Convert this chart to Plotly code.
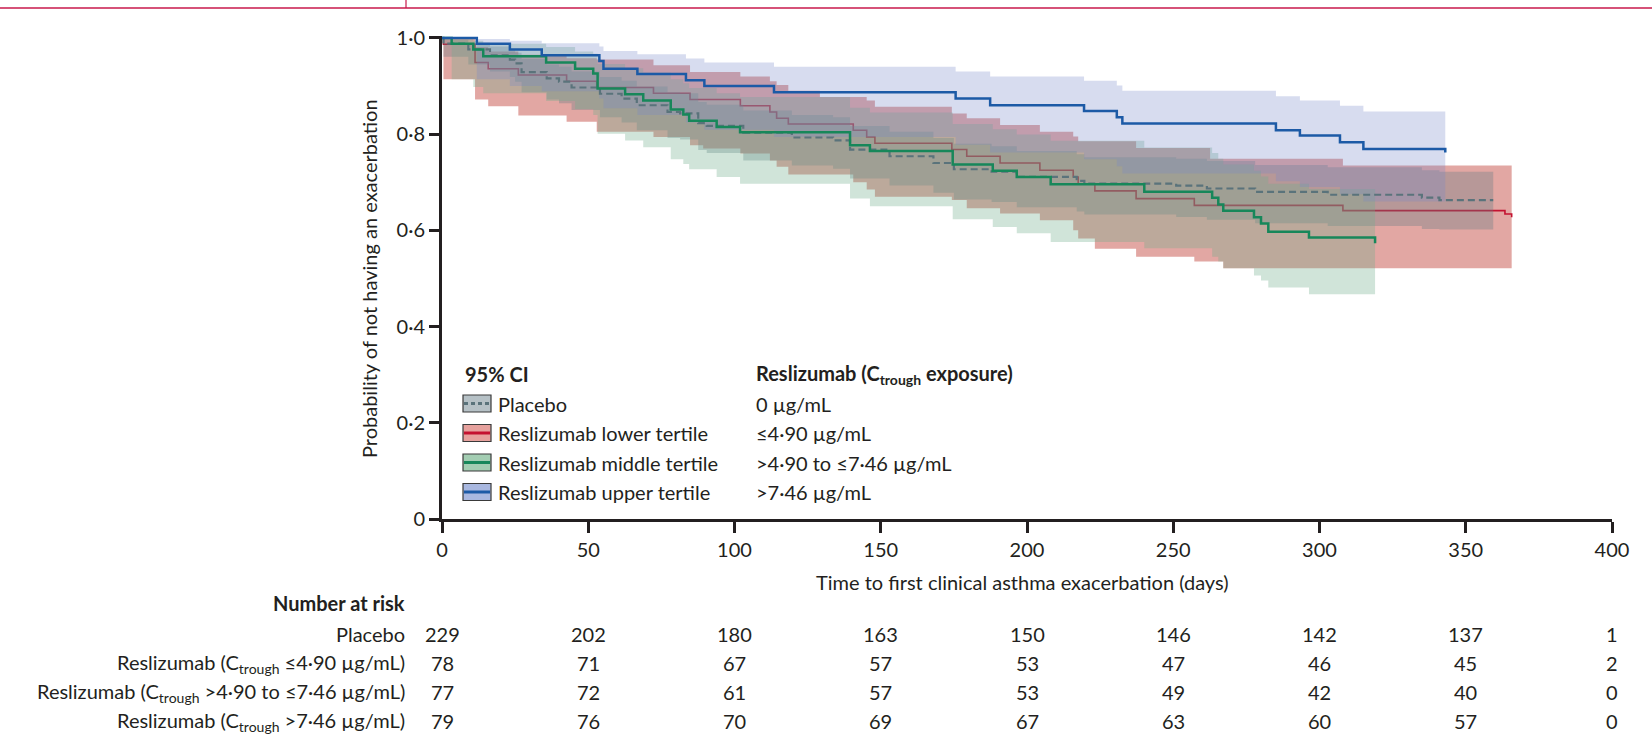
import plotly.graph_objects as go

# ---------------- Kaplan-Meier estimates (days, survival, 95% CI) ----------------
placebo_t = [0, 0.5, 9, 16.4, 23.2, 25.0, 27.2, 35.8, 40.0, 44.3, 54.0, 61.4, 66.6, 77.1, 81.4,
             87.6, 90.5, 103.0, 119.6, 133.7, 139.5, 153.0, 168.0, 175.0, 187.9, 196.5, 217.0,
             219.6, 251.0, 261.5, 278.0, 302.8, 335.0, 341.0, 359.4]
placebo_s = [1, .988, .976, .964, .955, .947, .929, .916, .909, .897, .884, .874, .860, .846, .843,
             .823, .817, .803, .793, .787, .768, .754, .740, .727, .722, .711, .703,
             .697, .693, .687, .680, .674, .668, .663, .663]
placebo_lo = [1, .961, .945, .930, .919, .909, .887, .872, .864, .850, .835, .824, .808, .792, .789,
              .767, .761, .745, .735, .728, .708, .693, .678, .664, .659, .648, .639,
              .633, .628, .622, .615, .609, .603, .602, .602]
placebo_hi = [1, .996, .990, .982, .975, .969, .956, .945, .940, .930, .919, .911, .899, .887, .885,
              .867, .861, .849, .840, .835, .817, .805, .792, .780, .775, .765, .758,
              .752, .749, .744, .736, .731, .725, .722, .722]

lower_t = [0, 0.5, 11.3, 15.8, 26.1, 42.6, 52.9, 72.3, 84.8, 89.3, 102.0, 112.1, 114.4, 118.4,
           129.2, 140.6, 145.2, 148.0, 174.3, 179.4, 190.8, 204.4, 215.8, 217.5, 223.2, 237.3,
           257.2, 262.6, 267.1, 308.0, 363.4, 365.7]
lower_s = [1, .987, .949, .936, .923, .910, .897, .885, .872, .872, .859, .846, .833, .821,
           .821, .808, .794, .781, .768, .754, .740, .725, .711, .697, .682, .666,
           .652, .652, .652, .641, .634, .627]
lower_lo = [1, .914, .872, .858, .839, .826, .805, .794, .777, .770, .760, .745, .732, .716,
            .716, .700, .685, .670, .663, .646, .635, .621, .600, .583, .562, .545,
            .535, .535, .521, .521, .521, .521]
lower_hi = [1, .998, .981, .972, .965, .958, .955, .943, .929, .929, .920, .910, .902, .890,
            .877, .877, .870, .857, .843, .833, .819, .805, .795, .785, .785, .771,
            .771, .749, .749, .735, .735, .735]

middle_t = [0, 3.3, 10.7, 14.1, 35.6, 45.5, 51.7, 53.2, 62.6, 68.8, 78.2, 82.5, 84.5, 93.9,
            101.9, 139.5, 146.3, 174.6, 188.3, 196.5, 208.1, 240.1, 263.3, 265.4, 267.1,
            277.6, 280.0, 282.5, 296.4, 319.0]
middle_s = [1, .988, .976, .962, .949, .936, .926, .895, .883, .870, .851, .841, .828, .815,
            .804, .777, .765, .737, .724, .711, .696, .680, .668, .654, .641,
            .627, .614, .597, .585, .573]
middle_lo = [1, .914, .898, .885, .869, .852, .840, .801, .787, .773, .748, .738, .727, .711,
             .697, .666, .650, .623, .607, .594, .576, .563, .545, .535, .521,
             .506, .496, .481, .467, .467]
middle_hi = [1, .998, .994, .988, .981, .972, .967, .946, .937, .928, .914, .906, .896, .885,
             .877, .855, .845, .821, .810, .799, .786, .772, .761, .749, .737,
             .724, .712, .697, .686, .686]

upper_t = [0, 11.9, 23.2, 34.1, 53.8, 55.2, 66.8, 83.4, 89.7, 113.5, 175.6, 187.4, 219.5,
           230.7, 232.6, 285.1, 293.3, 307.0, 315.0, 343.0]
upper_s = [1, .988, .976, .964, .952, .936, .925, .912, .900, .887, .874, .860, .848,
           .835, .822, .808, .797, .783, .769, .762]
upper_lo = [1, .914, .900, .889, .874, .854, .840, .824, .809, .794, .778, .762, .748,
            .733, .718, .702, .690, .675, .660, .652]
upper_hi = [1, .998, .994, .989, .982, .973, .966, .957, .949, .940, .930, .920, .911,
            .901, .890, .879, .870, .859, .847, .842]

# ---------------- number at risk ----------------
risk_days = [0, 50, 100, 150, 200, 250, 300, 350, 400]
risk_placebo = [229, 202, 180, 163, 150, 146, 142, 137, 1]
risk_lower = [78, 71, 67, 57, 53, 47, 46, 45, 2]
risk_middle = [77, 72, 61, 57, 53, 49, 42, 40, 0]
risk_upper = [79, 76, 70, 69, 67, 63, 60, 57, 0]

risk_labels = [
    "Placebo",
    "Reslizumab (C<sub>trough</sub> \u22644\u00b790 \u00b5g/mL)",
    "Reslizumab (C<sub>trough</sub> >4\u00b790 to \u22647\u00b746 \u00b5g/mL)",
    "Reslizumab (C<sub>trough</sub> >7\u00b746 \u00b5g/mL)",
]
legend_names = ["Placebo", "Reslizumab lower tertile", "Reslizumab middle tertile",
                "Reslizumab upper tertile"]
legend_exposure = ["0 \u00b5g/mL", "\u22644\u00b790 \u00b5g/mL",
                   ">4\u00b790 to \u22647\u00b746 \u00b5g/mL", ">7\u00b746 \u00b5g/mL"]

x_ticks = [0, 50, 100, 150, 200, 250, 300, 350, 400]
y_ticks = [0, 0.2, 0.4, 0.6, 0.8, 1.0]
y_ticktext = ["0", "0\u00b72", "0\u00b74", "0\u00b76", "0\u00b78", "1\u00b70"]

# ---------------- styling ----------------
FONT = "Lato, 'Liberation Sans', Arial, sans-serif"
INK = "#231f20"
FS = 20

C_PLACEBO_LINE = "#5a737b"
C_LOWER_LINE = "#c41230"
C_MIDDLE_LINE = "#17875a"
C_UPPER_LINE = "#1c5aa6"

C_PLACEBO_BAND = "rgba(100,122,132,0.34)"
C_LOWER_BAND = "rgba(190,55,45,0.44)"
C_MIDDLE_BAND = "rgba(112,172,140,0.33)"
C_UPPER_BAND = "rgba(118,136,200,0.29)"

ICON_FILL = ["#b6c1c6", "#e6a19d", "#a3cdb2", "#a9b8e0"]
ICON_LINE = [C_PLACEBO_LINE, C_LOWER_LINE, C_MIDDLE_LINE, C_UPPER_LINE]

W, H = 1652, 735
PL, PR, PT, PB = 442, 1612, 36, 519  # plot area in page pixels


def px(X):
    return (X - PL) / (PR - PL)


def py(Y):
    return (PB - Y) / (PB - PT)


fig = go.Figure()


def add_band(t, lo, hi, color):
    fig.add_trace(go.Scatter(x=t, y=lo, mode="lines", line=dict(width=0, shape="hv"),
                             hoverinfo="skip", showlegend=False))
    fig.add_trace(go.Scatter(x=t, y=hi, mode="lines", line=dict(width=0, shape="hv"),
                             fill="tonexty", fillcolor=color, hoverinfo="skip",
                             showlegend=False))


def add_curve(t, s, color, width, dash="solid"):
    fig.add_trace(go.Scatter(x=t, y=s, mode="lines",
                             line=dict(color=color, width=width, shape="hv", dash=dash),
                             showlegend=False))


# lower tertile sits beneath the other confidence bands
add_band(lower_t, lower_lo, lower_hi, C_LOWER_BAND)
add_curve(lower_t, lower_s, C_LOWER_LINE, 1.6)
add_band(placebo_t, placebo_lo, placebo_hi, C_PLACEBO_BAND)
add_band(middle_t, middle_lo, middle_hi, C_MIDDLE_BAND)
add_band(upper_t, upper_lo, upper_hi, C_UPPER_BAND)
add_curve(placebo_t, placebo_s, C_PLACEBO_LINE, 2.2, dash="7px,4px")
add_curve(middle_t, middle_s, C_MIDDLE_LINE, 2.5)
add_curve(upper_t, upper_s, C_UPPER_LINE, 2.5)

shapes = []
annotations = []

# journal header rule
shapes.append(dict(type="line", xref="paper", yref="paper", x0=px(0), x1=px(W),
                   y0=py(8), y1=py(8), line=dict(color="#c8194b", width=1.5)))
shapes.append(dict(type="line", xref="paper", yref="paper", x0=px(406), x1=px(406),
                   y0=py(0), y1=py(8), line=dict(color="#c8194b", width=1.2)))

# legend block
LEG_ICON_X0, LEG_ICON_X1 = 463, 491
LEG_TEXT_X = 496
LEG_COL2_X = 754
LEG_HEAD_Y = 374
LEG_ROW_Y = [403.5, 433, 462.5, 492]

annotations.append(dict(xref="paper", yref="paper", x=px(LEG_ICON_X0), y=py(LEG_HEAD_Y),
                        text="<b>95% CI</b>", showarrow=False, xanchor="left",
                        yanchor="middle", font=dict(family=FONT, size=FS, color=INK)))
annotations.append(dict(xref="paper", yref="paper", x=px(LEG_COL2_X), y=py(LEG_HEAD_Y),
                        text="<b>Reslizumab (C<sub>trough</sub> exposure)</b>",
                        showarrow=False, xanchor="left", yanchor="middle",
                        font=dict(family=FONT, size=FS, color=INK)))
for i, yy in enumerate(LEG_ROW_Y):
    shapes.append(dict(type="rect", xref="paper", yref="paper",
                       x0=px(LEG_ICON_X0), x1=px(LEG_ICON_X1),
                       y0=py(yy + 8.5), y1=py(yy - 8.5),
                       fillcolor=ICON_FILL[i], line=dict(color="#3a3a3a", width=1.2)))
    shapes.append(dict(type="line", xref="paper", yref="paper",
                       x0=px(LEG_ICON_X0 + 1), x1=px(LEG_ICON_X1 - 1),
                       y0=py(yy), y1=py(yy),
                       line=dict(color=ICON_LINE[i], width=3,
                                 dash="4px,3px" if i == 0 else "solid")))
    annotations.append(dict(xref="paper", yref="paper", x=px(LEG_TEXT_X), y=py(yy),
                            text=legend_names[i], showarrow=False, xanchor="left",
                            yanchor="middle", font=dict(family=FONT, size=FS, color=INK)))
    annotations.append(dict(xref="paper", yref="paper", x=px(LEG_COL2_X), y=py(yy),
                            text=legend_exposure[i], showarrow=False, xanchor="left",
                            yanchor="middle", font=dict(family=FONT, size=FS, color=INK)))

# axis titles
annotations.append(dict(xref="paper", yref="paper", x=px(1022), y=py(582),
                        text="Time to first clinical asthma exacerbation (days)",
                        showarrow=False, xanchor="center", yanchor="middle",
                        font=dict(family=FONT, size=FS, color=INK)))
annotations.append(dict(xref="paper", yref="paper", x=px(369), y=py(279),
                        text="Probability of not having an exacerbation", textangle=-90,
                        showarrow=False, xanchor="center", yanchor="middle",
                        font=dict(family=FONT, size=FS, color=INK)))

# number-at-risk table
RISK_LABEL_X = 407
annotations.append(dict(xref="paper", yref="paper", x=px(RISK_LABEL_X), y=py(603),
                        text="<b>Number at risk</b>", showarrow=False, xanchor="right",
                        yanchor="middle", font=dict(family=FONT, size=FS, color=INK)))
RISK_ROW_Y = [634, 663, 692, 721]
for label, counts, yy in zip(risk_labels,
                             [risk_placebo, risk_lower, risk_middle, risk_upper],
                             RISK_ROW_Y):
    annotations.append(dict(xref="paper", yref="paper", x=px(RISK_LABEL_X), y=py(yy),
                            text=label, showarrow=False, xanchor="right", yanchor="middle",
                            font=dict(family=FONT, size=FS, color=INK)))
    for d, n in zip(risk_days, counts):
        annotations.append(dict(xref="x", yref="paper", x=d, y=py(yy), text=str(n),
                                showarrow=False, xanchor="center", yanchor="middle",
                                font=dict(family=FONT, size=FS, color=INK)))

fig.update_layout(
    width=W, height=H,
    margin=dict(l=PL, r=W - PR, t=PT, b=H - PB),
    paper_bgcolor="white", plot_bgcolor="white",
    showlegend=False,
    shapes=shapes, annotations=annotations,
    font=dict(family=FONT, size=FS, color=INK),
    xaxis=dict(range=[0, 400], tickvals=x_ticks, ticks="outside", ticklen=11,
               tickwidth=2.5, tickcolor=INK, showline=True, linewidth=3, linecolor=INK,
               showgrid=False, zeroline=False, tickfont=dict(family=FONT, size=FS, color=INK)),
    yaxis=dict(range=[0, 1.004], tickvals=y_ticks, ticktext=y_ticktext, ticks="outside",
               ticklen=10, tickwidth=2.5, tickcolor=INK, showline=True, linewidth=3,
               linecolor=INK, showgrid=False, zeroline=False,
               tickfont=dict(family=FONT, size=FS, color=INK)),
)

fig.write_html("out.html")
